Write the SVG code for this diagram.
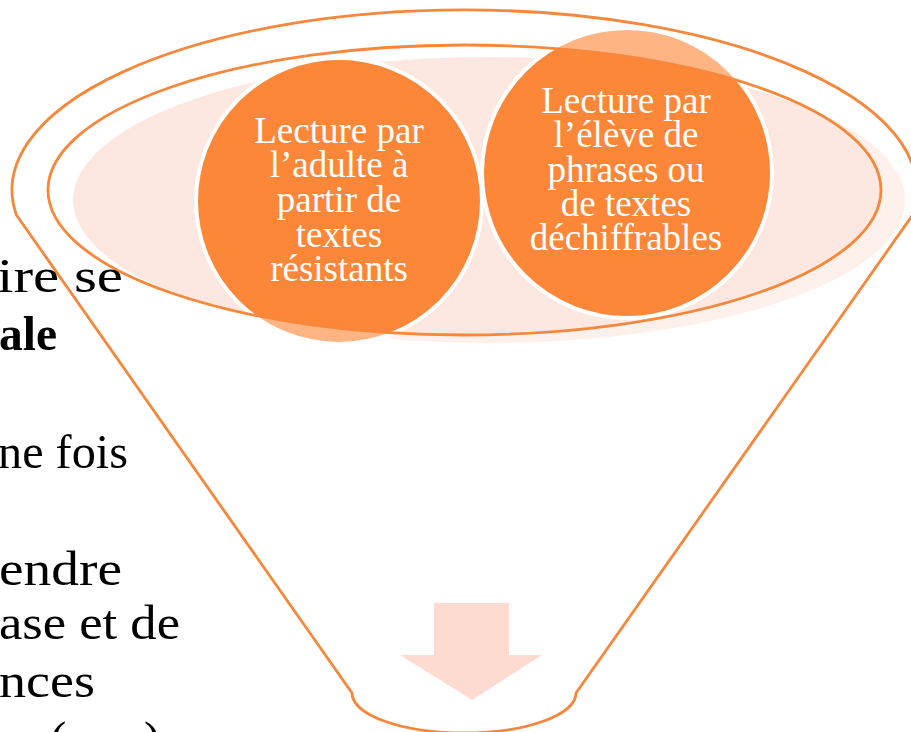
<svg xmlns="http://www.w3.org/2000/svg" width="911" height="732" viewBox="0 0 911 732">
<style>
.side{font-family:"Liberation Serif","Times New Roman",serif;font-size:49px;fill:#000}
.ctext{font-family:"Liberation Serif","Times New Roman",serif;font-size:37px;fill:#fff;text-anchor:middle}
.circ{fill:#FD8738;stroke:#fff;stroke-width:4}
</style>
<rect width="911" height="732" fill="#fff"/>
<g id="background-ellipse">
<ellipse cx="489" cy="200" rx="416" ry="143" fill="#FDE8E1"/>
</g>
<g id="node-1">
<circle class="circ" cx="339" cy="201" r="143"/>
<text class="ctext" x="339" y="143">Lecture par</text>
<text class="ctext" x="339" y="177">l’adulte à</text>
<text class="ctext" x="339" y="212">partir de</text>
<text class="ctext" x="339" y="247">textes</text>
<text class="ctext" x="339" y="281">résistants</text>
</g>
<g id="node-2">
<circle class="circ" cx="627" cy="173" r="145"/>
<text class="ctext" x="626" y="113">Lecture par</text>
<text class="ctext" x="626" y="147">l’élève de</text>
<text class="ctext" x="626" y="182">phrases ou</text>
<text class="ctext" x="626" y="216">de textes</text>
<text class="ctext" x="626" y="250">déchiffrables</text>
</g>
<g id="funnel">
<path d="M16.4,215 A452.5,180 0 1 1 912.6,215 L576,693 A112,40 0 0 1 352,693 Z M48,190 A416.5,145 0 1 0 881,190 A416.5,145 0 1 0 48,190 Z" fill="#fff" fill-opacity="0.38" fill-rule="evenodd" stroke="#F7873A" stroke-width="2.8" stroke-linejoin="round"/>
</g>
<g id="connectors">
<path id="arrow" d="M434,603 H509 V655 H542 L472,700 L400,655 H434 Z" fill="#FDDBD0"/>
</g>
<g id="side-text">
<text class="side" x="-3" y="292" textLength="126" lengthAdjust="spacingAndGlyphs">ire se</text>
<text class="side" x="-1" y="350" font-weight="bold" textLength="58" lengthAdjust="spacingAndGlyphs">ale</text>
<text class="side" x="-2" y="468" textLength="130" lengthAdjust="spacingAndGlyphs">ne fois</text>
<text class="side" x="-1" y="585" textLength="123" lengthAdjust="spacingAndGlyphs">endre</text>
<text class="side" x="-1" y="639" textLength="181" lengthAdjust="spacingAndGlyphs">ase et de</text>
<text class="side" x="-1" y="697" textLength="96" lengthAdjust="spacingAndGlyphs">nces</text>
<text class="side" x="50" y="755">(</text>
<text class="side" x="144" y="755">)</text>
</g>
</svg>
